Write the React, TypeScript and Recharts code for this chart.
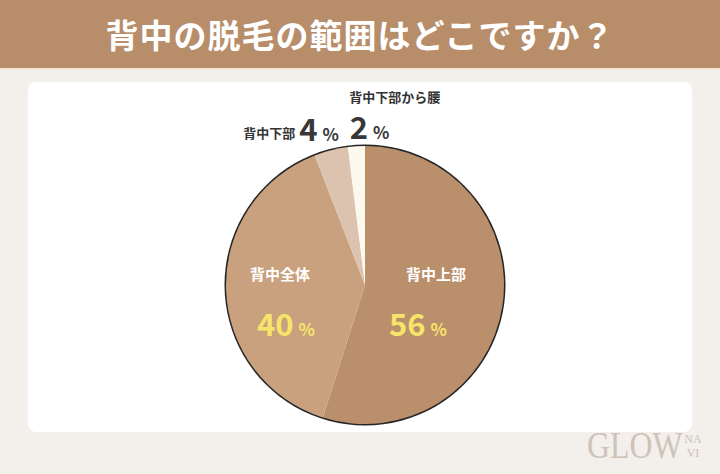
import { PieChart, Pie, Cell } from 'recharts';

const categories = ['背中上部', '背中全体', '背中下部', '背中下部から腰'];
const shares = [56, 40, 4, 2];
const SLICE_COLORS = ['#b98f6c', '#c9a17e', '#dcc3af', '#fdf8ee'];

const data = categories.map((name, i) => ({ name, value: shares[i] }));
const ring = [{ name: 'outline', value: 1 }];

const RADIAN = Math.PI / 180;
const JP = '"Noto Sans CJK JP", "Noto Sans", sans-serif';

function SliceLabel(props: any) {
  const { cx, cy, midAngle, outerRadius, index, name, value } = props;
  const cos = Math.cos(-midAngle * RADIAN);
  const sin = Math.sin(-midAngle * RADIAN);

  if (value >= 10) {
    // big slices: name and value inside, left/right of centre
    const side = cos >= 0 ? 1 : -1;
    const nx = cx + side * 78 - 7;
    const vx = cx + side * 66 - 13;
    return (
      <g>
        <text x={nx} y={cy - 5} textAnchor="middle" fill="#ffffff" fontFamily={JP} fontWeight={700} fontSize={15}>
          {name}
        </text>
        <text x={vx} y={cy + 51} textAnchor="middle" fill="#f7e56b" fontFamily={JP} fontWeight={700}>
          <tspan fontSize={31}>{value}</tspan>
          <tspan fontSize={17} dx={5}>%</tspan>
        </text>
      </g>
    );
  }

  // small slices sit outside above the pie
  const px = cx + (outerRadius + 12) * cos;
  const py = cy + (outerRadius + 12) * sin;
  if (index === 2) {
    return (
      <g>
        <text x={px - 33} y={py - 1} textAnchor="end" fill="#333333" fontFamily={JP} fontWeight={700} fontSize={13}>
          {name}
        </text>
        <text x={px - 29} y={py + 2} textAnchor="start" fill="#383838" fontFamily={JP} fontWeight={600}>
          <tspan fontSize={31}>{value}</tspan>
          <tspan fontSize={17} dx={5}>%</tspan>
        </text>
      </g>
    );
  }
  return (
    <g>
      <text x={px + 39} y={py - 32} textAnchor="middle" fill="#333333" fontFamily={JP} fontWeight={700} fontSize={13}>
        {name}
      </text>
      <text x={px - 6} y={py + 5} textAnchor="start" fill="#383838" fontFamily={JP} fontWeight={600}>
        <tspan fontSize={31}>{value}</tspan>
        <tspan fontSize={17} dx={5}>%</tspan>
      </text>
    </g>
  );
}

export default function App() {
  return (
    <div style={{ position: 'relative', width: 720, height: 474, overflow: 'hidden', background: '#f3efea' }}>
      <style>{'body{margin:0}'}</style>
      <div
        style={{
          position: 'absolute', left: 0, top: 0, width: 720, height: 68, background: '#b78d6a',
          borderBottom: '2px solid #f3e6d8', color: '#fff', fontFamily: JP, fontWeight: 700,
          fontSize: 33, lineHeight: '68px', textAlign: 'center', letterSpacing: 1,
        }}
      >
        背中の脱毛の範囲はどこですか？
      </div>
      <div style={{ position: 'absolute', left: 28, top: 82, width: 664, height: 350, background: '#ffffff', borderRadius: 8 }} />
      <div style={{ position: 'absolute', left: 0, top: 0 }}>
        <PieChart width={720} height={474}>
          <Pie
            data={ring}
            dataKey="value"
            cx={360}
            cy={280}
            innerRadius={138}
            outerRadius={140.5}
            startAngle={90}
            endAngle={-270}
            stroke="none"
            fill="#262626"
            isAnimationActive={false}
          />
          <Pie
            data={data}
            dataKey="value"
            nameKey="name"
            cx={360}
            cy={280}
            outerRadius={139}
            startAngle={90}
            endAngle={-270}
            stroke="none"
            label={SliceLabel}
            labelLine={false}
            isAnimationActive={false}
          >
            {data.map((d, i) => (
              <Cell key={d.name} fill={SLICE_COLORS[i]} />
            ))}
          </Pie>
        </PieChart>
      </div>
      <div
        style={{
          position: 'absolute', left: 587, top: 424, color: '#cdc3b8',
          fontFamily: '"Liberation Serif", "DejaVu Serif", serif', fontSize: 37,
          transform: 'scaleX(0.86)', transformOrigin: 'left top', whiteSpace: 'nowrap',
        }}
      >
        GLOW
      </div>
      <div
        style={{
          position: 'absolute', left: 684, top: 432, color: '#cdc3b8', width: 18,
          fontFamily: '"Liberation Serif", "DejaVu Serif", serif', fontSize: 12, lineHeight: '14px', textAlign: 'center',
        }}
      >
        NA<br />VI
      </div>
    </div>
  );
}
